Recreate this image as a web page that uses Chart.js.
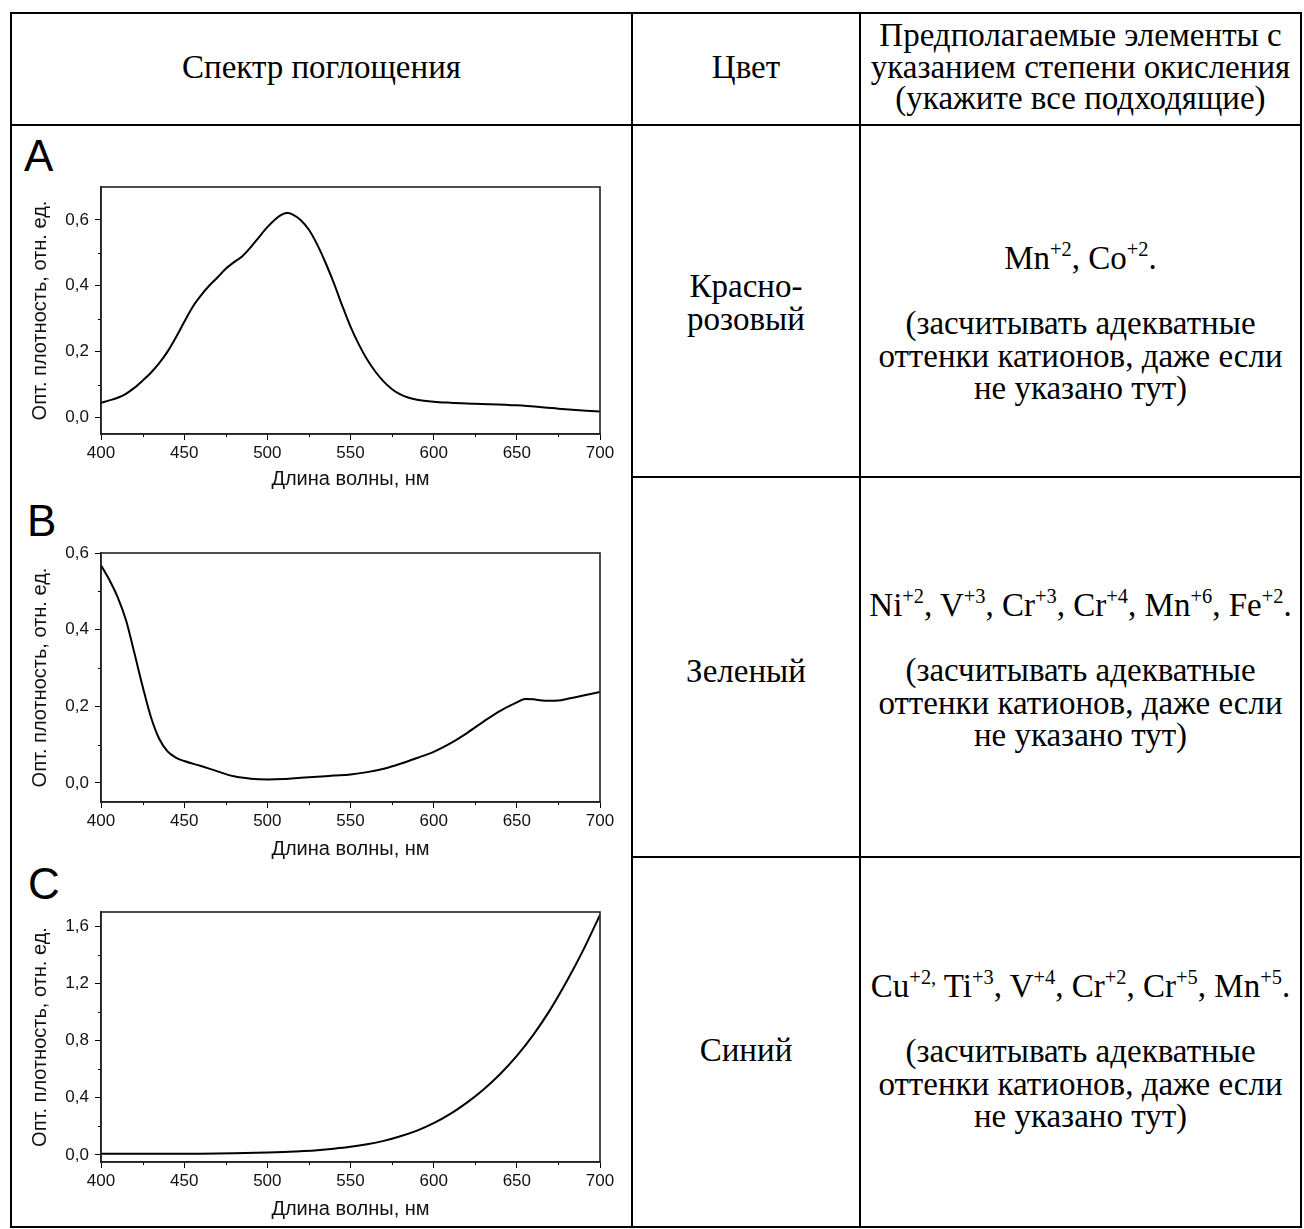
<!DOCTYPE html>
<html lang="ru">
<head>
<meta charset="utf-8">
<title>Спектры поглощения</title>
<script src="https://cdn.jsdelivr.net/npm/chart.js@4.4.1/dist/chart.umd.min.js"></script>
<style>
  html, body { margin: 0; padding: 0; background: #fff; }
  body { width: 1304px; height: 1229px; position: relative; overflow: hidden; }
  .rule { position: absolute; background: #000; }
  .txt {
    position: absolute;
    font-family: "Liberation Serif", "Times New Roman", serif;
    font-size: 33px;
    line-height: 32.5px;
    text-align: center;
    color: #000;
    white-space: nowrap;
  }
  .txt sup { font-size: 0.62em; line-height: 0; vertical-align: baseline; position: relative; top: -0.62em; }
  .letter {
    position: absolute;
    font-family: "Liberation Sans", Arial, sans-serif;
    font-size: 44px;
    line-height: 44px;
    color: #000;
  }
  canvas { position: absolute; left: 12px; }
</style>
</head>
<body>

<!-- table rules -->
<div class="rule" style="left:10px; top:12px; width:1292px; height:2px"></div>
<div class="rule" style="left:10px; top:1226px; width:1292px; height:2px"></div>
<div class="rule" style="left:10px; top:12px; width:2px; height:1216px"></div>
<div class="rule" style="left:1300px; top:12px; width:2px; height:1216px"></div>
<div class="rule" style="left:631px; top:12px; width:2px; height:1216px"></div>
<div class="rule" style="left:859px; top:12px; width:2px; height:1216px"></div>
<div class="rule" style="left:10px; top:124px; width:1292px; height:2px"></div>
<div class="rule" style="left:631px; top:476px; width:671px; height:2px"></div>
<div class="rule" style="left:631px; top:856px; width:671px; height:2px"></div>

<!-- header -->
<div class="txt" style="left:12px; width:619px; top:51px">Спектр поглощения</div>
<div class="txt" style="left:633px; width:226px; top:51px">Цвет</div>
<div class="txt" style="left:861px; width:439px; top:20px; line-height:31.5px">Предполагаемые элементы с<br>указанием степени окисления<br>(укажите все подходящие)</div>

<!-- row A -->
<div class="txt" style="left:633px; width:226px; top:270px">Красно-<br>розовый</div>
<div class="txt" style="left:861px; width:439px; top:242px">Mn<sup>+2</sup>, Co<sup>+2</sup>.<br><br>(засчитывать адекватные<br>оттенки катионов, даже если<br>не указано тут)</div>

<!-- row B -->
<div class="txt" style="left:633px; width:226px; top:655px">Зеленый</div>
<div class="txt" style="left:861px; width:439px; top:589px">Ni<sup>+2</sup>, V<sup>+3</sup>, Cr<sup>+3</sup>, Cr<sup>+4</sup>, Mn<sup>+6</sup>, Fe<sup>+2</sup>.<br><br>(засчитывать адекватные<br>оттенки катионов, даже если<br>не указано тут)</div>

<!-- row C -->
<div class="txt" style="left:633px; width:226px; top:1034px">Синий</div>
<div class="txt" style="left:861px; width:439px; top:970px">Cu<sup>+2,</sup> Ti<sup>+3</sup>, V<sup>+4</sup>, Cr<sup>+2</sup>, Cr<sup>+5</sup>, Mn<sup>+5</sup>.<br><br>(засчитывать адекватные<br>оттенки катионов, даже если<br>не указано тут)</div>

<!-- panel letters -->
<div class="letter" style="left:24px; top:134px">A</div>
<div class="letter" style="left:27px; top:499px">B</div>
<div class="letter" style="left:28px; top:862px">C</div>

<canvas id="chartA" width="618" height="367" style="top:127px"></canvas>
<canvas id="chartB" width="618" height="369" style="top:493px"></canvas>
<canvas id="chartC" width="618" height="360" style="top:862px"></canvas>

<script>
// wavelength, nm / optical density, rel. units
const waveA = [400, 405, 410, 415, 420, 425, 430, 435, 440, 445, 450, 455, 460, 465, 470, 475, 480, 485, 490, 495, 500, 505, 509, 512, 515, 520, 525, 530, 535, 540, 545, 550, 555, 560, 565, 570, 575, 580, 585, 590, 600, 610, 625, 650, 675, 700];
const absA = [0.045, 0.052, 0.060, 0.072, 0.090, 0.112, 0.136, 0.165, 0.200, 0.243, 0.290, 0.335, 0.370, 0.400, 0.425, 0.452, 0.472, 0.490, 0.517, 0.548, 0.578, 0.603, 0.617, 0.621, 0.617, 0.600, 0.570, 0.525, 0.470, 0.408, 0.340, 0.276, 0.222, 0.176, 0.139, 0.109, 0.086, 0.070, 0.060, 0.054, 0.048, 0.045, 0.042, 0.037, 0.027, 0.018];

const waveB = [400, 405, 410, 415, 420, 425, 430, 435, 440, 445, 450, 460, 470, 480, 490, 500, 510, 520, 530, 540, 550, 560, 570, 580, 590, 600, 610, 620, 630, 640, 650, 655, 660, 665, 670, 675, 680, 690, 700];
const absB = [0.568, 0.530, 0.485, 0.425, 0.340, 0.252, 0.172, 0.115, 0.082, 0.066, 0.057, 0.044, 0.030, 0.017, 0.011, 0.009, 0.010, 0.013, 0.016, 0.019, 0.022, 0.028, 0.037, 0.050, 0.065, 0.081, 0.103, 0.130, 0.160, 0.188, 0.210, 0.219, 0.218, 0.215, 0.214, 0.215, 0.219, 0.228, 0.237];

const waveC = [400, 420, 440, 460, 480, 500, 510, 520, 530, 540, 550, 560, 570, 580, 590, 600, 610, 620, 630, 640, 650, 660, 670, 680, 690, 700];
const absC = [0.008, 0.008, 0.007, 0.008, 0.011, 0.016, 0.020, 0.026, 0.033, 0.043, 0.056, 0.074, 0.098, 0.130, 0.170, 0.222, 0.287, 0.366, 0.458, 0.566, 0.693, 0.842, 1.015, 1.215, 1.435, 1.680];

const xTicks = [400, 450, 500, 550, 600, 650, 700];
const xMinor = [425, 475, 525, 575, 625, 675];

const yTicksA = [0, 0.2, 0.4, 0.6];
const yMinorA = [0.1, 0.3, 0.5];
const yTicksB = [0, 0.2, 0.4, 0.6];
const yMinorB = [0.1, 0.3, 0.5];
const yTicksC = [0, 0.4, 0.8, 1.2, 1.6];
const yMinorC = [0.2, 0.6, 1.0, 1.4];

const xTitle = "Длина волны, нм";
const yTitle = "Опт. плотность, отн. ед.";

const SANS = '"Liberation Sans", Arial, sans-serif';
Chart.defaults.font.family = SANS;

// minor ticks and the closed frame, placed through the chart's own scales
const framePlugin = {
  id: "frame",
  afterDraw(chart, args, opts) {
    const ctx = chart.ctx;
    const area = chart.chartArea;
    const xs = chart.scales.x;
    const ys = chart.scales.y;
    ctx.save();
    ctx.strokeStyle = "#000";
    ctx.lineWidth = 1;
    ctx.beginPath();
    (opts.x || []).forEach((v) => {
      const px = Math.round(xs.getPixelForValue(v)) + 0.5;
      ctx.moveTo(px, area.bottom);
      ctx.lineTo(px, area.bottom + opts.length);
    });
    (opts.y || []).forEach((v) => {
      const py = Math.round(ys.getPixelForValue(v)) + 0.5;
      ctx.moveTo(area.left, py);
      ctx.lineTo(area.left - opts.length, py);
    });
    ctx.stroke();
    ctx.strokeStyle = "#222";
    ctx.lineWidth = 1.6;
    ctx.strokeRect(area.left, area.top, area.right - area.left, area.bottom - area.top);
    ctx.restore();
  },
};

function fmtComma(v) {
  return Number(v).toFixed(1).replace(".", ",");
}

function makeSpectrum(canvasId, wave, abs, yMin, yMax, yTicks, yMinor, padTop, titlePad) {
  const canvas = document.getElementById(canvasId);
  return new Chart(canvas.getContext("2d"), {
    type: "line",
    data: {
      datasets: [
        {
          data: wave.map((w, i) => ({ x: w, y: abs[i] })),
          borderColor: "#000",
          borderWidth: 2,
          pointRadius: 0,
          cubicInterpolationMode: "monotone",
          fill: false,
        },
      ],
    },
    options: {
      responsive: false,
      animation: false,
      events: [],
      layout: { padding: { top: padTop, right: 30, bottom: 0, left: 0 } },
      plugins: {
        legend: { display: false },
        tooltip: { enabled: false },
        frame: { x: xMinor, y: yMinor, length: 3 },
      },
      scales: {
        x: {
          type: "linear",
          min: 400,
          max: 700,
          afterBuildTicks: (s) => { s.ticks = xTicks.map((v) => ({ value: v })); },
          afterFit: (s) => { s.height = 60; },
          grid: { display: true, drawOnChartArea: false, drawTicks: true, tickLength: 6, tickColor: "#000", tickWidth: 1 },
          border: { display: true, color: "#222", width: 1.6 },
          ticks: { color: "#111", font: { size: 17 }, padding: 3, maxRotation: 0, autoSkip: false, callback: (v) => String(v) },
          title: { display: true, text: xTitle, color: "#111", font: { size: 20 }, padding: { top: 0, bottom: titlePad } },
        },
        y: {
          type: "linear",
          min: yMin,
          max: yMax,
          afterBuildTicks: (s) => { s.ticks = yTicks.map((v) => ({ value: v })); },
          afterFit: (s) => { s.width = 89; },
          grid: { display: true, drawOnChartArea: false, drawTicks: true, tickLength: 6, tickColor: "#000", tickWidth: 1 },
          border: { display: true, color: "#222", width: 1.6 },
          ticks: { color: "#111", font: { size: 17 }, padding: 6, autoSkip: false, callback: (v) => fmtComma(v) },
          title: { display: true, text: yTitle, color: "#111", font: { size: 20 }, padding: { top: 16, bottom: 0 } },
        },
      },
    },
    plugins: [framePlugin],
  });
}

makeSpectrum("chartA", waveA, absA, -0.05, 0.7, yTicksA, yMinorA, 60, 3);
makeSpectrum("chartB", waveB, absB, -0.05, 0.6, yTicksB, yMinorB, 60, 1);
makeSpectrum("chartC", waveC, absC, -0.05, 1.7, yTicksC, yMinorC, 50, 1);
</script>
</body>
</html>
